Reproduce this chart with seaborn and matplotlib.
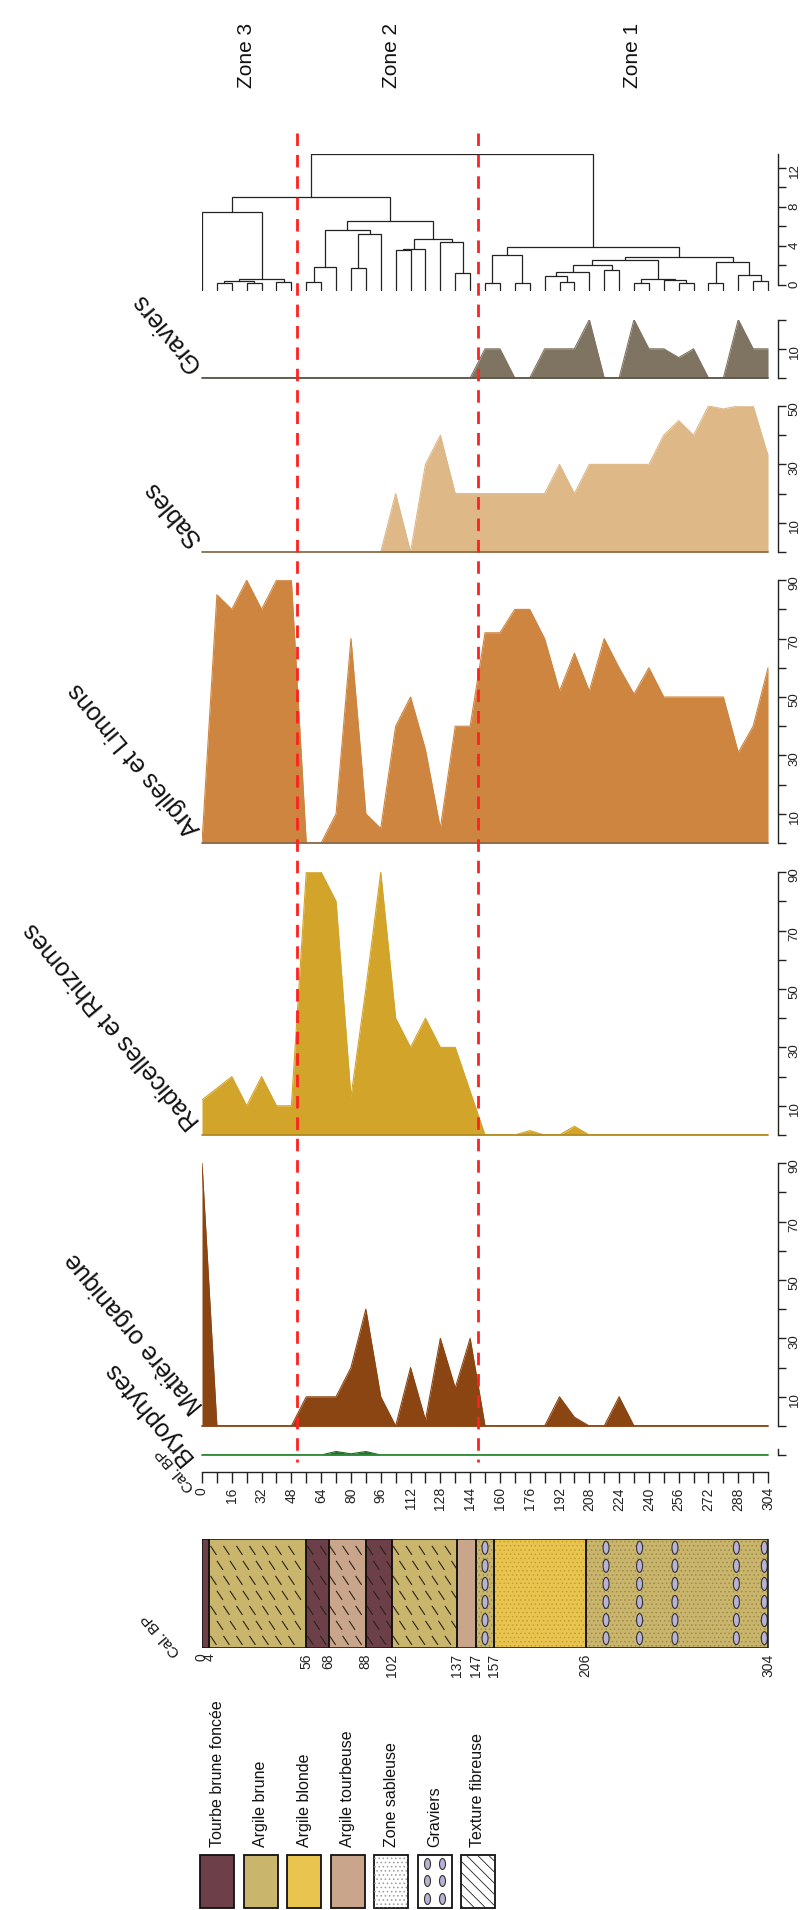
import matplotlib
matplotlib.use("Agg")
import matplotlib.pyplot as plt
import seaborn as sns
import numpy as np
import pandas as pd
from matplotlib.patches import Rectangle, Ellipse
from matplotlib.collections import LineCollection

# ---------------- data ----------------
depth = [0, 8, 16, 24, 32, 40, 48, 56, 64, 72, 80, 88, 96, 104, 112, 120, 128, 136, 144,
         152, 160, 168, 176, 184, 192, 200, 208, 216, 224, 232, 240, 248, 256, 264, 272,
         280, 288, 296, 304]
depth_labels = ['0', '', '16', '', '32', '', '48', '', '64', '', '80', '', '96', '', '112', '',
                '128', '', '144', '', '160', '', '176', '', '192', '', '208', '', '224', '',
                '240', '', '256', '', '272', '', '288', '', '304']

bryophytes = [0, 0, 0, 0, 0, 0, 0, 0, 0, 1.2, 0.4, 1.2, 0, 0, 0, 0, 0, 0, 0,
              0, 0, 0, 0, 0, 0, 0, 0, 0, 0, 0, 0, 0, 0, 0, 0, 0, 0, 0, 0]
matiere_organique = [90, 0, 0, 0, 0, 0, 0, 10, 10, 10, 20, 40, 10, 0, 20, 2, 30, 13, 30,
                     0, 0, 0, 0, 0, 10, 3, 0, 0, 10, 0, 0, 0, 0, 0, 0, 0, 0, 0, 0]
radicelles = [12, 16, 20, 10, 20, 10, 10, 90, 90, 80, 13, 50, 90, 40, 30, 40, 30, 30, 15,
              0, 0, 0, 1.5, 0, 0, 3, 0, 0, 0, 0, 0, 0, 0, 0, 0, 0, 0, 0, 0]
argiles = [0, 85, 80, 90, 80, 90, 90, 0, 0, 10, 70, 10, 5, 40, 50, 32, 5, 40, 40,
           72, 72, 80, 80, 70, 52, 65, 52, 70, 60, 51, 60, 50, 50, 50, 50, 50, 31, 40, 60]
sables = [0, 0, 0, 0, 0, 0, 0, 0, 0, 0, 0, 0, 0, 20, 0, 30, 40, 20, 20,
          20, 20, 20, 20, 20, 30, 20, 30, 30, 30, 30, 30, 40, 45, 40, 50, 49, 50, 50, 33]
graviers = [0, 0, 0, 0, 0, 0, 0, 0, 0, 0, 0, 0, 0, 0, 0, 0, 0, 0, 0,
            10, 10, 0, 0, 10, 10, 10, 20, 0, 0, 20, 10, 10, 7, 10, 0, 0, 20, 10, 10]

# dendrogram (CONISS-like): (child a, child b, height); ints = sample index, 'mK' = merge K
dendro_merges = [
    (1, 2, 0.2), (3, 4, 0.25), ('m0', 'm1', 0.45), (5, 6, 0.3), ('m2', 'm3', 0.6),
    (0, 'm4', 7.5),
    (7, 8, 0.3), ('m6', 9, 1.8), (10, 11, 1.7), ('m8', 12, 5.2), ('m7', 'm9', 5.6),
    (13, 14, 3.55), ('m11', 15, 3.7), (17, 18, 1.2), (16, 'm13', 4.4), ('m12', 'm14', 4.7),
    ('m10', 'm15', 6.6), ('m5', 'm16', 9.0),
    (19, 20, 0.2), (21, 22, 0.2), ('m18', 'm19', 3.1), (24, 25, 0.3), (23, 'm21', 0.9),
    ('m22', 26, 1.3), (27, 28, 1.5), ('m23', 'm24', 2.1), (29, 30, 0.2), (32, 33, 0.2),
    (31, 'm27', 0.5), ('m26', 'm28', 0.6), ('m25', 'm29', 2.6), (34, 35, 0.2),
    (37, 38, 0.4), (36, 'm32', 1.0), ('m31', 'm33', 2.4), ('m30', 'm34', 2.9),
    ('m20', 'm35', 3.9), ('m17', 'm36', 13.4),
]

zone_bounds = [51, 148]
zone_labels = ['Zone 3', 'Zone 2', 'Zone 1']
zone_label_depth = [24, 102, 231]

litho_bounds = [0, 4, 56, 68, 88, 102, 137, 147, 157, 206, 304]
litho_type = ['Tourbe brune foncée', 'Argile brune', 'Tourbe brune foncée', 'Argile tourbeuse',
              'Tourbe brune foncée', 'Argile brune', 'Argile tourbeuse', 'Argile brune',
              'Argile blonde', 'Argile brune']
litho_fibrous = [False, True, True, True, True, True, False, False, False, False]
litho_sandy = [False, False, False, False, False, False, False, True, True, True]
gravel_depths = [152, 217, 235, 254, 287, 302]

legend_labels = ['Tourbe brune foncée', 'Argile brune', 'Argile blonde', 'Argile tourbeuse',
                 'Zone sableuse', 'Graviers', 'Texture fibreuse']
litho_colors = {'Tourbe brune foncée': '#6d4049', 'Argile brune': '#c9b56b',
                'Argile blonde': '#e9c550', 'Argile tourbeuse': '#c9a68b'}
dot_colors = {'Argile brune': '#9f8c4c', 'Argile blonde': '#c2a030'}

# ---------------- style ----------------
sns.set_theme(style="white")
plt.rcParams['font.family'] = ['Liberation Sans', 'DejaVu Sans']
plt.rcParams['hatch.linewidth'] = 0.6

W, H = 806, 1910
fig = plt.figure(figsize=(W / 100, H / 100), dpi=100)
fig.patch.set_facecolor('white')

X0, PXU, XR = 202.0, 1.862, 778.0
XMAX = (XR - X0) / PXU
VS = 2.92
INK = '#222222'
PT = 0.72  # points per pixel


def px_axes(x0, ytop, x1, ybot, z=1):
    ax = fig.add_axes([x0 / W, 1 - ybot / H, (x1 - x0) / W, (ybot - ytop) / H])
    ax.set_zorder(z)
    ax.patch.set_alpha(0)
    ax.grid(False)
    return ax


def dx(d):
    return X0 + d * PXU


def right_axis(ax, vmax, ticks, labels, lo=0):
    for s in ('top', 'left', 'bottom'):
        ax.spines[s].set_visible(False)
    ax.spines['right'].set_visible(True)
    ax.spines['right'].set_bounds(lo, vmax)
    ax.spines['right'].set_color(INK)
    ax.spines['right'].set_linewidth(1)
    ax.yaxis.tick_right()
    ax.set_yticks(ticks)
    ax.set_yticklabels(labels)
    ax.tick_params(axis='y', which='both', direction='out', length=8 * PT, width=1,
                   color=INK, labelcolor=INK, labelsize=9.5, labelrotation=90, pad=2,
                   right=True, left=False, labelright=True, labelleft=False)
    ax.set_xticks([])
    ax.set_xlabel('')
    ax.set_ylabel('')


def strip(values, fill, line, base, vmax, ticks, labels):
    ax = px_axes(X0, base - vmax * VS, XR, base)
    ax.set_xlim(0, XMAX)
    ax.set_ylim(0, vmax)
    ax.fill_between(depth, 0, values, color=fill, lw=0, zorder=2)
    df = pd.DataFrame({'depth': depth, 'value': values})
    sns.lineplot(data=df, x='depth', y='value', ax=ax, color=fill, lw=0.8,
                 estimator=None, sort=False, zorder=3)
    ax.plot([depth[0], depth[-1]], [0, 0], color=line, lw=1.3, zorder=4, clip_on=False)
    right_axis(ax, vmax, ticks, labels)
    return ax


t90 = [0, 10, 20, 30, 40, 50, 60, 70, 80, 90]
l90 = ['', '10', '', '30', '', '50', '', '70', '', '90']

strip(graviers, '#7f7462', '#5c5446', 378, 20, [0, 10, 20], ['', '10', ''])
strip(sables, '#deb887', '#8d6e48', 552, 50, [0, 10, 20, 30, 40, 50],
      ['', '10', '', '30', '', '50'])
strip(argiles, '#cd853f', '#8a6a4c', 843, 90, t90, l90)
strip(radicelles, '#d2a42a', '#b48c1e', 1135, 90, t90, l90)
strip(matiere_organique, '#8b4513', '#8b4513', 1426, 90, t90, l90)
axb = strip(bryophytes, '#1f6a25', '#2f8a35', 1455, 2, [0], [''])

# ---------------- dendrogram ----------------
DS = 9.75
ax_dn = px_axes(X0, 285 - 13.45 * DS, XR, 285 + 0.6 * DS)
ax_dn.set_xlim(0, XMAX)
ax_dn.set_ylim(-0.6, 13.45)
pos = {i: d for i, d in enumerate(depth)}
hgt = {i: -0.5 for i in range(len(depth))}
for k, (a, b, h) in enumerate(dendro_merges):
    xa, xb = pos[a], pos[b]
    ax_dn.plot([xa, xa, xb, xb], [hgt[a], h, h, hgt[b]], color=INK, lw=0.9,
               solid_joinstyle='miter')
    pos['m%d' % k] = (xa + xb) / 2
    hgt['m%d' % k] = h
right_axis(ax_dn, 13.45, [0, 2, 4, 6, 8, 10, 12], ['0', '', '4', '', '8', '', '12'])

# ---------------- depth axis ----------------
ax_dp = px_axes(X0, 1430, XR, 1472)
ax_dp.set_xlim(0, XMAX)
ax_dp.set_ylim(0, 1)
for s in ('top', 'left', 'right'):
    ax_dp.spines[s].set_visible(False)
ax_dp.spines['bottom'].set_visible(True)
ax_dp.spines['bottom'].set_bounds(depth[0], depth[-1])
ax_dp.spines['bottom'].set_color(INK)
ax_dp.spines['bottom'].set_linewidth(1)
ax_dp.set_yticks([])
ax_dp.set_xticks(depth)
ax_dp.set_xticklabels(depth_labels)
ax_dp.tick_params(axis='x', direction='out', length=11 * PT, width=1, color=INK,
                  labelcolor=INK, labelsize=10, labelrotation=90, pad=3, bottom=True,
                  labelbottom=True)

# ---------------- lithology column ----------------
LT, LB = 1539, 1648
ax_l = px_axes(X0, LT, XR, LB)
ax_l.set_xlim(0, XMAX)
ax_l.set_ylim(0, 1)
for s in ax_l.spines.values():
    s.set_visible(False)
LH = LB - LT
for i, kind in enumerate(litho_type):
    a, b = litho_bounds[i], litho_bounds[i + 1]
    base = Rectangle((a, 0), b - a, 1, facecolor=litho_colors[kind], edgecolor='none', zorder=1)
    ax_l.add_patch(base)
    if litho_sandy[i]:
        ax_l.add_patch(Rectangle((a, 0), b - a, 1, facecolor='none',
                                 edgecolor=dot_colors.get(kind, '#999999'), lw=0,
                                 hatch='....', zorder=2))
    if litho_fibrous[i]:
        segs = []
        sx, sy = 13 / PXU, 15 / LH
        hx, hy = 3 / PXU, 4.5 / LH
        for r, yy in enumerate(np.arange(0.07, 1.0, sy)):
            off = (r % 2) * sx / 2
            for xx in np.arange(a + 4 / PXU + off, b - 2 / PXU, sx):
                segs.append([(xx - hx, yy + hy), (xx + hx, yy - hy)])
        lc = LineCollection(segs, colors='#2a2418', linewidths=0.8, zorder=3)
        lc.set_clip_path(base)
        ax_l.add_collection(lc)
    ax_l.add_patch(Rectangle((a, 0), b - a, 1, facecolor='none', edgecolor='#111111',
                             lw=1.1, zorder=5))
for gd in gravel_depths:
    for yy in np.linspace(0.09, 0.92, 6):
        ax_l.add_patch(Ellipse((gd, yy), 6 / PXU, 13 / LH, facecolor='#b8b2d4',
                               edgecolor='#333333', lw=0.8, zorder=4))
ax_l.set_yticks([])
ax_l.set_xticks(litho_bounds)
ax_l.set_xticklabels([str(v) for v in litho_bounds])
ax_l.tick_params(axis='x', length=0, labelsize=10, labelrotation=90, pad=4, labelcolor=INK,
                 bottom=True, labelbottom=True)

# ---------------- overlay: zones, titles, legend ----------------
ax_o = fig.add_axes([0, 0, 1, 1])
ax_o.set_zorder(10)
ax_o.patch.set_alpha(0)
ax_o.set_xlim(0, W)
ax_o.set_ylim(H, 0)
ax_o.axis('off')

for zb in zone_bounds:
    ax_o.plot([dx(zb), dx(zb)], [133, 1462], color='#ff2020', lw=2.0, dashes=(4.5, 3.2))
for lab, zd in zip(zone_labels, zone_label_depth):
    ax_o.text(dx(zd), 55, lab, rotation=90, ha='center', va='center', fontsize=15, color='#111')

strip_titles = ['Graviers', 'Sables', 'Argiles et Limons', 'Radicelles et Rhizomes',
                'Matière organique', 'Bryophytes']
title_anchor = [(196, 368), (196, 542), (196, 833), (196, 1125), (199, 1410), (188, 1461)]
for t, (tx, ty) in zip(strip_titles, title_anchor):
    ax_o.text(tx, ty, t, rotation=130, rotation_mode='anchor', ha='left', va='center',
              fontsize=18, color='#111')
ax_o.text(192, 1490, 'Cal. BP', rotation=130, rotation_mode='anchor', ha='left', va='center',
          fontsize=11, color='#111')
ax_o.text(178, 1655, 'Cal. BP', rotation=130, rotation_mode='anchor', ha='left', va='center',
          fontsize=11, color='#111')

# legend
LX0, LSTEP, LW_, LY0, LY1 = 200, 43.5, 34, 1855, 1908
leg_face = [litho_colors['Tourbe brune foncée'], litho_colors['Argile brune'],
            litho_colors['Argile blonde'], litho_colors['Argile tourbeuse'],
            'white', 'white', 'white']
for i, lab in enumerate(legend_labels):
    x0 = LX0 + i * LSTEP
    ax_o.add_patch(Rectangle((x0, LY0), LW_, LY1 - LY0, facecolor=leg_face[i],
                             edgecolor='#111', lw=1.3))
    if lab == 'Zone sableuse':
        ax_o.add_patch(Rectangle((x0, LY0), LW_, LY1 - LY0, facecolor='none',
                                 edgecolor='#9a9a9a', lw=0, hatch='....'))
    if lab == 'Texture fibreuse':
        ax_o.add_patch(Rectangle((x0, LY0), LW_, LY1 - LY0, facecolor='none',
                                 edgecolor='#222', lw=0, hatch='\\\\\\'))
    if lab == 'Graviers':
        for cx in (x0 + 10, x0 + 25):
            for cy in (LY0 + 9, LY0 + 26, LY0 + 44):
                ax_o.add_patch(Ellipse((cx, cy), 6, 11, facecolor='#b8b2d4',
                                       edgecolor='#333', lw=0.8))
    ax_o.text(x0 + LW_ / 2, LY0 - 8, lab, rotation=90, ha='center', va='bottom',
              fontsize=11.5, color='#111')

fig.savefig('out.png', dpi=100, facecolor='white')
